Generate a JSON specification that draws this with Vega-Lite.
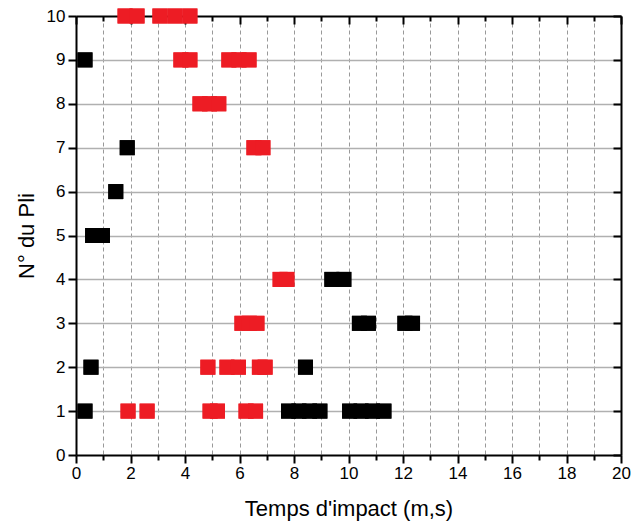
{
  "$schema": "https://vega.github.io/schema/vega-lite/v6.json",
  "autosize": "none",
  "width": 545,
  "height": 439,
  "padding": {"left": 76, "top": 16, "right": 13, "bottom": 77},
  "background": "white",
  "config": {
    "font": "Liberation Sans",
    "view": {"stroke": null},
    "axis": {"domainColor": "black", "domainWidth": 2, "tickColor": "black", "tickWidth": 2, "labelColor": "black", "titleColor": "black", "labelFont": "Liberation Sans", "titleFont": "Liberation Sans", "titleFontWeight": "normal"},
    "legend": {"strokeColor": "black", "strokeWidth": 1.5, "fillColor": "white", "padding": 4, "cornerRadius": 0}
  },
  "data": {"values": [
    {"t": 0.33, "pli": 9, "type": "fissure matrice"},
    {"t": 1.88, "pli": 7, "type": "fissure matrice"},
    {"t": 1.46, "pli": 6, "type": "fissure matrice"},
    {"t": 0.61, "pli": 5, "type": "fissure matrice"},
    {"t": 0.97, "pli": 5, "type": "fissure matrice"},
    {"t": 9.39, "pli": 4, "type": "fissure matrice"},
    {"t": 9.83, "pli": 4, "type": "fissure matrice"},
    {"t": 10.40, "pli": 3, "type": "fissure matrice"},
    {"t": 10.73, "pli": 3, "type": "fissure matrice"},
    {"t": 12.07, "pli": 3, "type": "fissure matrice"},
    {"t": 12.35, "pli": 3, "type": "fissure matrice"},
    {"t": 0.55, "pli": 2, "type": "fissure matrice"},
    {"t": 8.42, "pli": 2, "type": "fissure matrice"},
    {"t": 0.33, "pli": 1, "type": "fissure matrice"},
    {"t": 7.80, "pli": 1, "type": "fissure matrice"},
    {"t": 8.18, "pli": 1, "type": "fissure matrice"},
    {"t": 8.57, "pli": 1, "type": "fissure matrice"},
    {"t": 8.95, "pli": 1, "type": "fissure matrice"},
    {"t": 10.04, "pli": 1, "type": "fissure matrice"},
    {"t": 10.46, "pli": 1, "type": "fissure matrice"},
    {"t": 10.88, "pli": 1, "type": "fissure matrice"},
    {"t": 11.30, "pli": 1, "type": "fissure matrice"},
    {"t": 1.80, "pli": 10, "type": "rupture fibre"},
    {"t": 2.24, "pli": 10, "type": "rupture fibre"},
    {"t": 3.08, "pli": 10, "type": "rupture fibre"},
    {"t": 3.63, "pli": 10, "type": "rupture fibre"},
    {"t": 4.18, "pli": 10, "type": "rupture fibre"},
    {"t": 3.85, "pli": 9, "type": "rupture fibre"},
    {"t": 4.18, "pli": 9, "type": "rupture fibre"},
    {"t": 5.61, "pli": 9, "type": "rupture fibre"},
    {"t": 5.98, "pli": 9, "type": "rupture fibre"},
    {"t": 6.35, "pli": 9, "type": "rupture fibre"},
    {"t": 4.55, "pli": 8, "type": "rupture fibre"},
    {"t": 4.90, "pli": 8, "type": "rupture fibre"},
    {"t": 5.24, "pli": 8, "type": "rupture fibre"},
    {"t": 6.53, "pli": 7, "type": "rupture fibre"},
    {"t": 6.86, "pli": 7, "type": "rupture fibre"},
    {"t": 7.49, "pli": 4, "type": "rupture fibre"},
    {"t": 7.74, "pli": 4, "type": "rupture fibre"},
    {"t": 6.09, "pli": 3, "type": "rupture fibre"},
    {"t": 6.36, "pli": 3, "type": "rupture fibre"},
    {"t": 6.64, "pli": 3, "type": "rupture fibre"},
    {"t": 4.84, "pli": 2, "type": "rupture fibre"},
    {"t": 5.54, "pli": 2, "type": "rupture fibre"},
    {"t": 5.96, "pli": 2, "type": "rupture fibre"},
    {"t": 6.73, "pli": 2, "type": "rupture fibre"},
    {"t": 6.94, "pli": 2, "type": "rupture fibre"},
    {"t": 1.91, "pli": 1, "type": "rupture fibre"},
    {"t": 2.61, "pli": 1, "type": "rupture fibre"},
    {"t": 4.92, "pli": 1, "type": "rupture fibre"},
    {"t": 5.19, "pli": 1, "type": "rupture fibre"},
    {"t": 6.24, "pli": 1, "type": "rupture fibre"},
    {"t": 6.59, "pli": 1, "type": "rupture fibre"}
  ]},
  "resolve": {"axis": {"x": "independent", "y": "independent"}},
  "layer": [
    {
      "mark": {"type": "point", "shape": "square", "filled": true, "size": 225, "opacity": 1, "strokeWidth": 0},
      "encoding": {
        "x": {"field": "t", "type": "quantitative", "scale": {"domain": [0, 20], "nice": false, "zero": false},
          "axis": {"orient": "top", "values": [0,1,2,3,4,5,6,7,8,9,10,11,12,13,14,15,16,17,18,19,20], "labels": false, "grid": false, "title": null,
            "tickSize": {"condition": {"test": "datum.value % 2 == 0", "value": -8}, "value": -5}}},
        "y": {"field": "pli", "type": "quantitative", "scale": {"domain": [0, 10], "nice": false, "zero": false},
          "axis": {"orient": "right", "values": [0,1,2,3,4,5,6,7,8,9,10], "labels": false, "grid": false, "title": null, "tickSize": -8}},
        "color": {"field": "type", "type": "nominal",
          "scale": {"domain": ["fissure matrice", "rupture fibre"], "range": ["#000000", "#ED1C24"]}, "legend": null}
      }
    },
    {
      "mark": {"type": "point", "shape": "square", "filled": true, "size": 225, "opacity": 1, "strokeWidth": 0},
      "encoding": {
        "x": {"field": "t", "type": "quantitative", "scale": {"domain": [0, 20], "nice": false, "zero": false},
          "axis": {"orient": "bottom", "values": [0,1,2,3,4,5,6,7,8,9,10,11,12,13,14,15,16,17,18,19,20],
            "labelExpr": "datum.value % 2 == 0 ? datum.label : ''",
            "tickSize": {"condition": {"test": "datum.value % 2 == 0", "value": 8}, "value": 5},
            "labelFontSize": 17, "labelPadding": 2, "labelFlush": false,
            "grid": true, "gridDash": [4, 3], "gridColor": "#999999", "gridWidth": 1,
            "gridOpacity": {"condition": {"test": "datum.value == 0 || datum.value == 20", "value": 0}, "value": 1},
            "title": "Temps d'impact (m,s)", "titleFontSize": 22, "titlePadding": 17, "zindex": 0}},
        "y": {"field": "pli", "type": "quantitative", "scale": {"domain": [0, 10], "nice": false, "zero": false},
          "axis": {"orient": "left", "values": [0,1,2,3,4,5,6,7,8,9,10], "tickSize": 8,
            "labelFontSize": 17, "labelPadding": 3, "labelFlush": false,
            "grid": true, "gridColor": "#b0b0b0", "gridWidth": 1.5,
            "gridOpacity": {"condition": {"test": "datum.value == 0 || datum.value == 10", "value": 0}, "value": 1},
            "title": "N° du Pli", "titleFontSize": 22, "titlePadding": 8, "zindex": 0}},
        "color": {"field": "type", "type": "nominal",
          "scale": {"domain": ["fissure matrice", "rupture fibre"], "range": ["#000000", "#ED1C24"]},
          "legend": {"title": null, "orient": "top-right", "offset": 0,
            "symbolType": "square", "symbolSize": 225, "symbolStrokeWidth": 0, "symbolOffset": 17,
            "labelOffset": 25, "labelFontSize": 21, "labelFont": "Liberation Sans", "labelColor": "black", "labelLimit": 300,
            "rowPadding": 7}}
      }
    }
  ]
}
